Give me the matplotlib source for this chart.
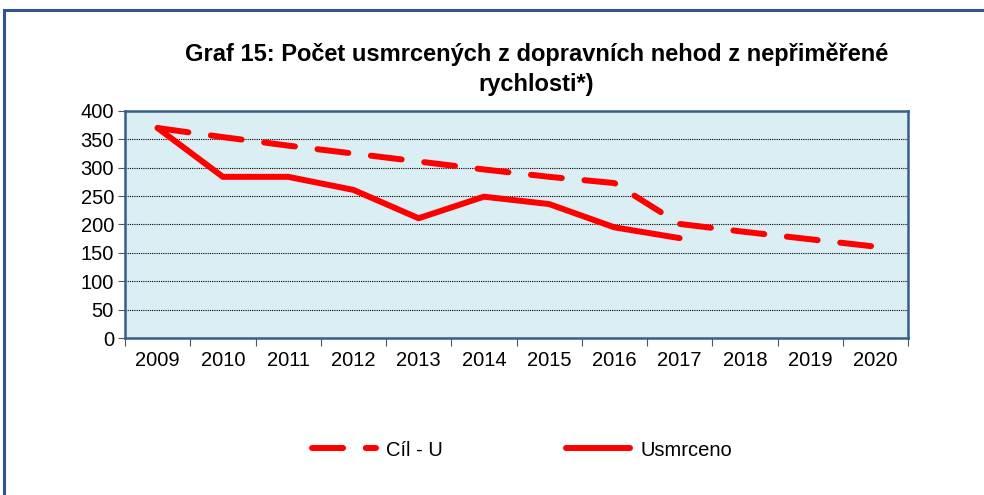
import matplotlib.pyplot as plt
from matplotlib.patches import Rectangle

plt.rcParams['font.family'] = ['Liberation Sans', 'DejaVu Sans']

years = ['2009', '2010', '2011', '2012', '2013', '2014', '2015', '2016',
         '2017', '2018', '2019', '2020']
cil_u = [370, 354, 339, 325, 311, 297, 284, 273, 201, 187, 174, 161]
usmrceno = [370, 284, 284, 261, 211, 249, 236, 195, 176]

red = '#FF0000'
navy = '#385D8A'

fig = plt.figure(figsize=(9.84, 4.95), dpi=100)
# outer chart frame (cut off at right and bottom)
fig.patches.append(Rectangle((4 / 984, -0.1), 1.2, 1.1 - 10 / 495,
                             transform=fig.transFigure, fill=False,
                             edgecolor='#2F5597', linewidth=2.2))

ax = fig.add_axes([125 / 984, 1 - 338 / 495, 783 / 984, 227 / 495])
ax.set_facecolor('#DBEEF4')

x_cil = list(range(len(cil_u)))
x_usm = list(range(len(usmrceno)))
ax.plot(x_cil, cil_u, color=red, lw=4.3, dashes=(5.2, 3.8),
        dash_capstyle='round', solid_capstyle='round', label='Cíl - U')
ax.plot(x_usm, usmrceno, color=red, lw=4.3, solid_capstyle='round',
        solid_joinstyle='round', label='Usmrceno')

ax.set_xlim(-0.5, len(years) - 0.5)
ax.set_ylim(0, 400)
ax.set_yticks(range(0, 401, 50))
ax.set_xticks([i - 0.5 for i in range(len(years) + 1)])
ax.set_xticklabels([])
ax.set_xticks(range(len(years)), minor=True)
ax.set_xticklabels(years, minor=True)
ax.tick_params(axis='x', which='major', length=6, color='#555555')
ax.tick_params(axis='x', which='minor', length=0, pad=9, labelsize=14.5)
ax.tick_params(axis='y', length=5, color='#555555', labelsize=14.5, pad=3)

ax.grid(axis='y', color='black', linestyle=(0, (1, 1)), linewidth=0.8)
ax.set_axisbelow(True)
for s in ax.spines.values():
    s.set_color(navy)
    s.set_linewidth(1.8)

fig.text(537 / 984, 1 - 54 / 495,
         'Graf 15: Počet usmrcených z dopravních nehod z nepřiměřené',
         ha='center', va='center', fontsize=17, fontweight='bold')
fig.text(536 / 984, 1 - 85 / 495, 'rychlosti*)',
         ha='center', va='center', fontsize=17, fontweight='bold')

fig.legend(loc='center', bbox_to_anchor=(522 / 984, 1 - 450 / 495), ncol=2,
           frameon=False, fontsize=14.5, handlelength=3.2, handletextpad=0.5,
           columnspacing=6.1)

fig.savefig('out.png', dpi=100)
